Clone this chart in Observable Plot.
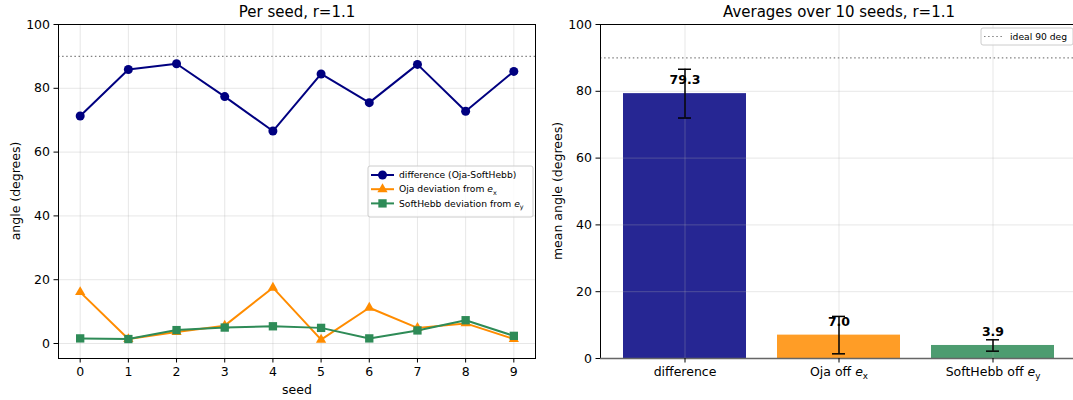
<!DOCTYPE html>
<html>
<head>
<meta charset="utf-8">
<script src="https://cdn.jsdelivr.net/npm/d3@7"></script>
<script src="https://cdn.jsdelivr.net/npm/@observablehq/plot@0.6"></script>
<style>
  html, body { margin: 0; padding: 0; background: white; }
  #wrap { position: relative; width: 1073px; height: 400px; overflow: hidden; font-family: "DejaVu Sans", sans-serif; }
  #left { position: absolute; left: 0; top: 0; }
  #right { position: absolute; left: 545px; top: 0; }
</style>
</head>
<body>
<div id="wrap"><div id="left"></div><div id="right"></div></div>
<script>
// ---- data ----
const seeds = [0, 1, 2, 3, 4, 5, 6, 7, 8, 9];
const diffAngle = [71.3, 85.9, 87.7, 77.4, 66.6, 84.5, 75.5, 87.5, 72.8, 85.3];
const ojaDev = [16.1, 1.4, 3.6, 5.6, 17.5, 1.2, 11.2, 4.9, 6.3, 1.4];
const softDev = [1.6, 1.4, 4.2, 5.0, 5.4, 4.9, 1.6, 4.1, 7.3, 2.4];
const seriesNames = ["difference (Oja-SoftHebb)", "Oja deviation from e_x", "SoftHebb deviation from e_y"];
const barCategories = ["difference", "Oja off e_x", "SoftHebb off e_y"];
const barMeans = [79.3, 7.0, 3.9];
const barStds = [7.3, 5.6, 1.7];
const yTicks = [0, 20, 40, 60, 80, 100];
const idealAngle = 90;

// ---- styles ----
const lineColors = ["#000080", "#ff8c00", "#2e8b57"];
const barColors = ["#262693", "#ff9d26", "#4d9c70"];
const symbols = ["circle", "triangle", "square"];
const symbolR = [4.5, 3.8, 4.7];
const gridStroke = "#b0b0b0";
const tickFont = 12.5;
const baseStyle = { fontFamily: "DejaVu Sans, sans-serif", fontSize: tickFont + "px", color: "black", background: "white", overflow: "visible", maxWidth: "none" };

const seriesVals = [diffAngle, ojaDev, softDev];
const lineData = seriesVals.flatMap((vals, i) => vals.map((v, j) => ({ seed: seeds[j], value: v, series: seriesNames[i], k: i })));
const barData = barCategories.map((c, i) => ({ cat: c, mean: barMeans[i], std: barStds[i], color: barColors[i] }));

// ---- left chart ----
const left = Plot.plot({
  width: 545, height: 400,
  marginLeft: 58, marginRight: 10, marginTop: 24, marginBottom: 42,
  style: baseStyle,
  x: { domain: [-0.45, 9.45] },
  y: { domain: [-4.7, 100] },
  marks: [
    Plot.gridX({ ticks: seeds, stroke: gridStroke, strokeOpacity: 0.3 }),
    Plot.gridY({ ticks: yTicks, stroke: gridStroke, strokeOpacity: 0.3 }),
    Plot.ruleY([idealAngle], { stroke: "gray", strokeWidth: 1.2, strokeDasharray: "1.5,2.6" }),
    ...[0, 1, 2].flatMap(k => [
      Plot.line(lineData.filter(d => d.k === k), { x: "seed", y: "value", stroke: lineColors[k], strokeWidth: 2 }),
      Plot.dot(lineData.filter(d => d.k === k), { x: "seed", y: "value", fill: lineColors[k], stroke: "none", symbol: symbols[k], r: symbolR[k] })
    ]),
    Plot.frame({ stroke: "black", strokeWidth: 1 }),
    Plot.axisX({ ticks: seeds, tickSize: 4.5, tickPadding: 4, label: null, tickFormat: d => String(d) }),
    Plot.axisY({ ticks: yTicks, tickSize: 4.5, tickPadding: 4, label: null }),
    Plot.text(["Per seed, r=1.1"], { frameAnchor: "top", lineAnchor: "middle", dy: -12, fontSize: 15 }),
    Plot.text(["seed"], { frameAnchor: "bottom", lineAnchor: "middle", dy: 31, fontSize: tickFont })
  ]
});
document.getElementById("left").appendChild(left);

// ---- right chart ----
const right = Plot.plot({
  width: 532, height: 400,
  marginLeft: 55, marginRight: 0, marginTop: 24, marginBottom: 42,
  style: baseStyle,
  color: { type: "identity" },
  x: { type: "band", domain: barCategories, paddingInner: 0.2, paddingOuter: 0.142 },
  y: { domain: [0, 100] },
  marks: [
    Plot.barY(barData, { x: "cat", y: "mean", fill: "color" }),
    Plot.gridX({ stroke: gridStroke, strokeOpacity: 0.3 }),
    Plot.gridY({ ticks: yTicks, stroke: gridStroke, strokeOpacity: 0.3 }),
    Plot.ruleY([idealAngle], { stroke: "gray", strokeWidth: 1.2, strokeDasharray: "1.5,2.6" }),
    Plot.text(barData, { x: "cat", y: d => d.mean + 2.8, text: d => d.mean.toFixed(1), lineAnchor: "bottom", fontWeight: "bold", fontSize: tickFont }),
    Plot.ruleX(barData, { x: "cat", y1: d => d.mean - d.std, y2: d => d.mean + d.std, stroke: "black", strokeWidth: 1.5 }),
    Plot.tickY(barData, { x: "cat", y: d => d.mean + d.std, stroke: "black", strokeWidth: 1.5, insetLeft: 55, insetRight: 55 }),
    Plot.tickY(barData, { x: "cat", y: d => d.mean - d.std, stroke: "black", strokeWidth: 1.5, insetLeft: 55, insetRight: 55 }),
    Plot.frame({ stroke: "black", strokeWidth: 1 }),
    Plot.ruleY([0], { stroke: "#666", strokeWidth: 1.3 }),
    Plot.axisX({ tickSize: 4.5, tickPadding: 4, label: null }),
    Plot.axisY({ ticks: yTicks, tickSize: 4.5, tickPadding: 4, label: null }),
    Plot.text(["Averages over 10 seeds, r=1.1"], { frameAnchor: "top", lineAnchor: "middle", dy: -12, fontSize: 15 })
  ]
});
document.getElementById("right").appendChild(right);

// ---- helpers ----
function richText(sel, str) {
  const m = str.match(/^(.*)e_([xy])$/);
  sel.text(null).style("white-space", "pre");
  if (!m) { sel.text(str); return; }
  sel.append("tspan").text(m[1]);
  sel.append("tspan").attr("font-style", "italic").text("e");
  sel.append("tspan").attr("font-size", "0.7em").attr("dy", "0.35em").text(m[2]);
}
d3.select(right).selectAll("text").each(function () {
  const t = this.textContent;
  if (/e_[xy]$/.test(t)) richText(d3.select(this), t);
});

function yLabel(svg, x, text) {
  d3.select(svg).append("text")
    .attr("transform", `translate(${x},191) rotate(-90)`)
    .attr("text-anchor", "middle").attr("dominant-baseline", "central")
    .attr("font-size", tickFont + "px").attr("fill", "black").text(text);
}
yLabel(left, 15, "angle (degrees)");
yLabel(right, 12, "mean angle (degrees)");

// ---- left legend ----
{
  const g = d3.select(left).append("g").attr("font-size", "9.2px").attr("text-anchor", "start");
  g.append("rect").attr("x", 368).attr("y", 166).attr("width", 165).attr("height", 51).attr("rx", 2)
    .attr("fill", "white").attr("fill-opacity", 0.8).attr("stroke", "#ccc");
  seriesNames.forEach((name, k) => {
    const y = 175 + k * 14.2;
    g.append("line").attr("x1", 371).attr("x2", 394).attr("y1", y).attr("y2", y)
      .attr("stroke", lineColors[k]).attr("stroke-width", 2);
    g.append("path").attr("transform", `translate(382.5,${y})`)
      .attr("d", d3.symbol(k === 0 ? d3.symbolCircle : k === 1 ? d3.symbolTriangle : d3.symbolSquare, Math.PI * symbolR[k] * symbolR[k])())
      .attr("fill", lineColors[k]);
    const t = g.append("text").attr("x", 399).attr("y", y).attr("dy", "0.35em").attr("fill", "black");
    richText(t, name);
  });
}
// ---- right legend ----
{
  const g = d3.select(right).append("g").attr("font-size", "9.2px").attr("text-anchor", "start");
  g.append("rect").attr("x", 436).attr("y", 28).attr("width", 92).attr("height", 17).attr("rx", 2)
    .attr("fill", "white").attr("fill-opacity", 0.8).attr("stroke", "#ccc");
  g.append("line").attr("x1", 439).attr("x2", 459).attr("y1", 36.5).attr("y2", 36.5)
    .attr("stroke", "gray").attr("stroke-width", 1.2).attr("stroke-dasharray", "1.5,2.6");
  g.append("text").attr("x", 465).attr("y", 36.5).attr("dy", "0.35em").attr("fill", "black").text("ideal 90 deg");
}
</script>
</body>
</html>
